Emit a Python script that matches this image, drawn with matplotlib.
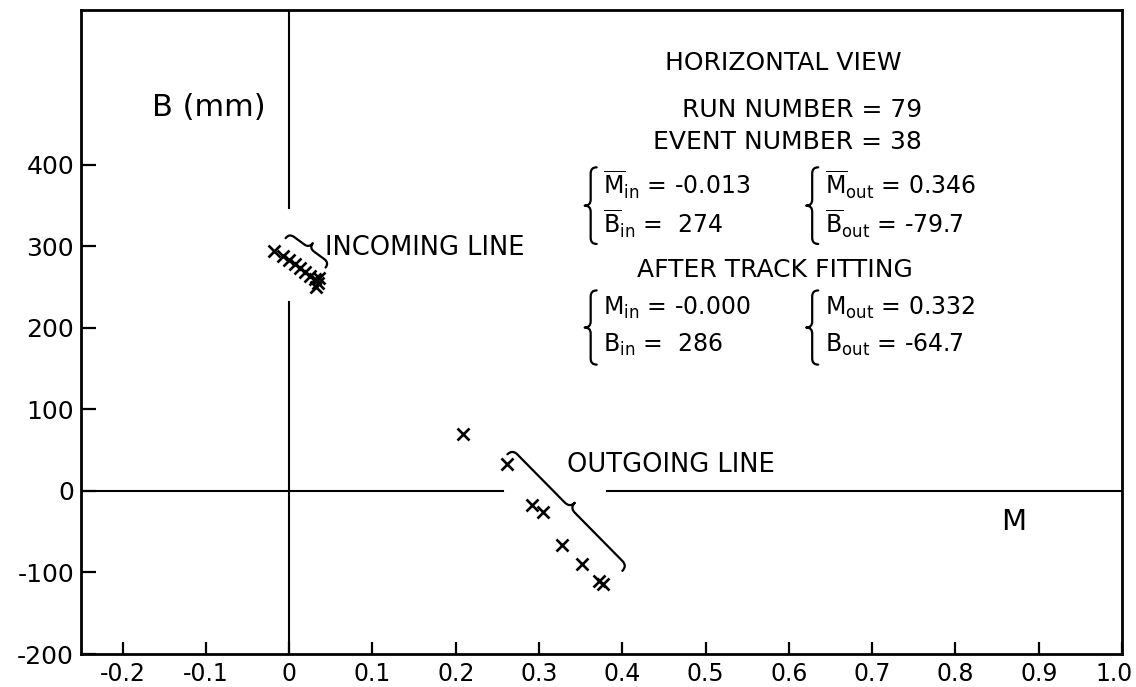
import matplotlib.pyplot as plt
import numpy as np
from matplotlib.path import Path
from matplotlib.patches import PathPatch
from matplotlib.transforms import ScaledTranslation

# hit positions in (M, B) space
incoming_m = [-0.018, -0.007, 0.000, 0.007, 0.013, 0.019, 0.025, 0.031, 0.034, 0.036, 0.032]
incoming_b = [294, 288, 283, 278, 274, 269, 264, 260, 255, 261, 250]
outgoing_m = [0.209, 0.262, 0.292, 0.305, 0.327, 0.352, 0.372, 0.377]
outgoing_b = [70, 33, -17, -26, -66, -90, -110, -114]

x_ticks = [-0.2, -0.1, 0, 0.1, 0.2, 0.3, 0.4, 0.5, 0.6, 0.7, 0.8, 0.9, 1.0]
x_labels = ['-0.2', '-0.1', '0', '0.1', '0.2', '0.3', '0.4', '0.5', '0.6', '0.7', '0.8', '0.9', '1.0']
y_ticks = [-200, -100, 0, 100, 200, 300, 400]

run_number = 79
event_number = 38
mean_in = ('-0.013', '274')
mean_out = ('0.346', '-79.7')
fit_in = ('-0.000', '286')
fit_out = ('0.332', '-64.7')

plt.rcParams['font.family'] = 'DejaVu Sans'
plt.rcParams['mathtext.fontset'] = 'dejavusans'
plt.rcParams['axes.unicode_minus'] = False


def brace(ax, p0, p1, h=7, r=7, lw=1.6):
    # curly brace from p0 to p1 (data coords), cusp on the left of p0->p1
    t = ax.transData
    a = t.transform(p0)
    b = t.transform(p1)
    d = b - a
    L = np.hypot(*d)
    u = d / L
    n = np.array([-u[1], u[0]])
    local = [(0, -h), (0, 0), (r, 0), (L / 2 - r, 0), (L / 2, 0), (L / 2, h),
             (L / 2, 0), (L / 2 + r, 0), (L - r, 0), (L, 0), (L, -h)]
    codes = [Path.MOVETO, Path.CURVE3, Path.CURVE3, Path.LINETO, Path.CURVE3, Path.CURVE3,
             Path.CURVE3, Path.CURVE3, Path.LINETO, Path.CURVE3, Path.CURVE3]
    pts = np.array([a + s * u + q * n for s, q in local])
    pts = t.inverted().transform(pts)
    ax.add_patch(PathPatch(Path(pts, codes), fill=False, lw=lw, color='black',
                           capstyle='round', joinstyle='round'))


fig = plt.figure(figsize=(11.36, 6.87), dpi=100)
ax = fig.add_axes([81 / 1136, 1 - 654 / 687, 1041 / 1136, 644 / 687])
ax.set_xlim(-0.25, 1.0)
ax.set_ylim(-200, 590)

for s in ax.spines.values():
    s.set_linewidth(2.0)

ax.set_xticks(x_ticks)
ax.set_xticklabels(x_labels)
ax.set_yticks(y_ticks)
ax.tick_params(axis='x', direction='in', length=9, width=1.6, pad=6, labelsize=17)
ax.tick_params(axis='y', direction='in', length=11, width=1.6, pad=5, labelsize=18)

# the last label sits against the right edge
last = ax.get_xticklabels()[-1]
last.set_transform(last.get_transform() + ScaledTranslation(-6 / 72, 0, fig.dpi_scale_trans))

# axes through the origin, broken around the tracks
ax.plot([-0.25, 0.257], [0, 0], color='black', lw=1.5)
ax.plot([0.382, 1.0], [0, 0], color='black', lw=1.5)
ax.plot([0, 0], [590, 347], color='black', lw=1.5)
ax.plot([0, 0], [232, -200], color='black', lw=1.5)

ax.plot(incoming_m, incoming_b, 'x', color='black', ms=8, mew=1.9)
ax.plot(outgoing_m, outgoing_b, 'x', color='black', ms=9, mew=1.9)

brace(ax, (0.000, 316), (0.048, 280), h=6, r=6)
brace(ax, (0.268, 51), (0.406, -92), h=7, r=7)

ax.text(-0.097, 470, 'B (mm)', fontsize=22, ha='center', va='center')
ax.text(0.870, -38, 'M', fontsize=21, ha='center', va='center')
ax.text(0.043, 298, 'INCOMING LINE', fontsize=18.5, ha='left', va='center')
ax.text(0.334, 32, 'OUTGOING LINE', fontsize=18.5, ha='left', va='center')

ax.text(0.593, 525, 'HORIZONTAL VIEW', fontsize=18, ha='center', va='center')
ax.text(0.760, 467, 'RUN NUMBER = %d' % run_number, fontsize=18, ha='right', va='center')
ax.text(0.760, 428, 'EVENT NUMBER = %d' % event_number, fontsize=18, ha='right', va='center')
ax.text(0.583, 271, 'AFTER TRACK FITTING', fontsize=18, ha='center', va='center')

rows = [
    (375, 327, r'$\overline{\mathrm{M}}_{\mathrm{in}}$ = ' + mean_in[0],
     r'$\overline{\mathrm{B}}_{\mathrm{in}}$ =  ' + mean_in[1],
     r'$\overline{\mathrm{M}}_{\mathrm{out}}$ = ' + mean_out[0],
     r'$\overline{\mathrm{B}}_{\mathrm{out}}$ = ' + mean_out[1]),
    (224, 179, r'$\mathrm{M}_{\mathrm{in}}$ = ' + fit_in[0],
     r'$\mathrm{B}_{\mathrm{in}}$ =  ' + fit_in[1],
     r'$\mathrm{M}_{\mathrm{out}}$ = ' + fit_out[0],
     r'$\mathrm{B}_{\mathrm{out}}$ = ' + fit_out[1]),
]
for y1, y2, a1, a2, b1, b2 in rows:
    ax.text(0.377, y1, a1, fontsize=17, ha='left', va='center')
    ax.text(0.377, y2, a2, fontsize=17, ha='left', va='center')
    ax.text(0.643, y1, b1, fontsize=17, ha='left', va='center')
    ax.text(0.643, y2, b2, fontsize=17, ha='left', va='center')
    brace(ax, (0.362, y2 - 24), (0.362, y1 + 22), h=6, r=6)
    brace(ax, (0.628, y2 - 24), (0.628, y1 + 22), h=6, r=6)

fig.savefig('out.png', dpi=100)
